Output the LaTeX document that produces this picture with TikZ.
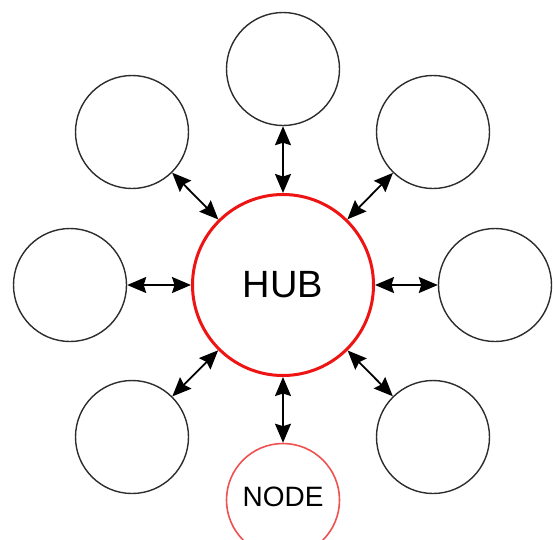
\documentclass[tikz,border=0pt]{standalone}
\usepackage{fontspec}
\setmainfont{Liberation Sans}
\usetikzlibrary{arrows.meta}
\definecolor{hubred}{RGB}{238,20,20}
\definecolor{nodered}{RGB}{240,80,80}
\definecolor{rim}{RGB}{45,45,45}
\tikzset{
  spoke/.style={circle, draw=rim, line width=1.4pt, minimum size=113pt, inner sep=0pt},
  hubbox/.style={circle, draw=hubred, line width=3pt, minimum size=181pt, inner sep=0pt, font=\fontsize{38}{40}\selectfont},
  leafbox/.style={circle, draw=nodered, line width=1.6pt, minimum size=113pt, inner sep=0pt, font=\fontsize{28}{30}\selectfont},
  tip/.tip={Stealth[length=19pt,width=16pt,inset=2.5pt]},
  link/.style={line width=1.8pt, tip-tip}
}
\begin{document}
\begin{tikzpicture}[x=1pt,y=-1pt]
  \clip (0,0) rectangle (553,539);
  \useasboundingbox (0,0) rectangle (553,539);
  \node[hubbox] (hub) at (283,285) {HUB};
  \node[spoke] (n)  at (283,69)  {};
  \node[spoke] (nw) at (132,132) {};
  \node[spoke] (ne) at (433,132) {};
  \node[spoke] (w)  at (70,285)  {};
  \node[spoke] (e)  at (495,285) {};
  \node[spoke] (sw) at (132,437) {};
  \node[spoke] (se) at (433,437) {};
  \node[leafbox] (s) at (283,500) {\raisebox{6pt}{NODE}};
  \foreach \t in {n,nw,ne,w,e,sw,se,s}
    \draw[link] (hub) -- (\t);
\end{tikzpicture}
\end{document}
